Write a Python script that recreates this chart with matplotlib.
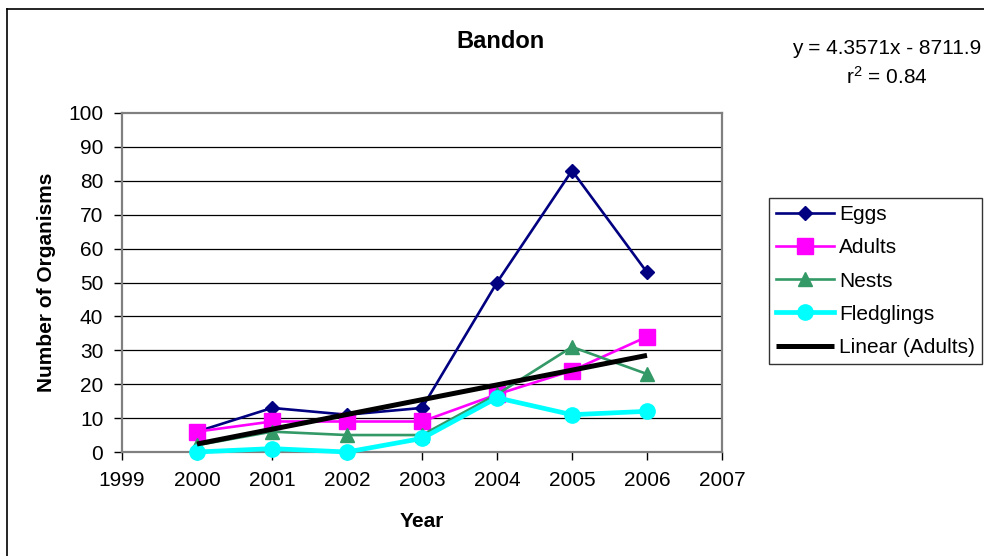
import numpy as np
import matplotlib
matplotlib.use("Agg")
import matplotlib.pyplot as plt
from matplotlib.lines import Line2D

plt.rcParams["font.family"] = ["Liberation Sans", "DejaVu Sans"]

years = [2000, 2001, 2002, 2003, 2004, 2005, 2006]
eggs = [6, 13, 11, 13, 50, 83, 53]
adults = [6, 9, 9, 9, 17, 24, 34]
nests = [2, 6, 5, 5, 17, 31, 23]
fledglings = [0, 1, 0, 4, 16, 11, 12]

x_ticks = [1999, 2000, 2001, 2002, 2003, 2004, 2005, 2006, 2007]
y_ticks = [0, 10, 20, 30, 40, 50, 60, 70, 80, 90, 100]

W, H = 984, 556
FS = 15
fig = plt.figure(figsize=(W / 100, H / 100), dpi=100)
ax = fig.add_axes([122 / W, 1 - 452 / H, 600 / W, 339 / H])

# outer chart frame (top and left edges)
fig.add_artist(Line2D([7 / W, 1.0], [1 - 9 / H, 1 - 9 / H], color="black", lw=1.2,
                      transform=fig.transFigure))
fig.add_artist(Line2D([7 / W, 7 / W], [0.0, 1 - 9 / H], color="black", lw=1.2,
                      transform=fig.transFigure))

ax.plot(years, eggs, color="#000080", lw=1.9, marker="D", ms=7.5,
        label="Eggs", clip_on=False, zorder=3)
ax.plot(years, adults, color="#FF00FF", lw=1.9, marker="s", ms=11,
        label="Adults", clip_on=False, zorder=4)
ax.plot(years, nests, color="#339966", lw=1.9, marker="^", ms=10,
        label="Nests", clip_on=False, zorder=5)
ax.plot(years, fledglings, color="#00FFFF", lw=3.4, marker="o", ms=11,
        label="Fledglings", clip_on=False, zorder=6)

# linear trend of the adult counts
yr = np.array(years, dtype=float)
slope, intercept = np.polyfit(yr, np.array(adults, dtype=float), 1)
fit = slope * yr + intercept
r2 = 1 - np.sum((np.array(adults) - fit) ** 2) / np.sum((np.array(adults) - np.mean(adults)) ** 2)
ax.plot(yr, fit, color="black", lw=3.6, label="Linear (Adults)", zorder=7,
        solid_capstyle="butt")

ax.set_xlim(1999, 2007)
ax.set_ylim(0, 100)
ax.set_xticks(x_ticks)
ax.set_yticks(y_ticks)
ax.set_xticklabels([str(t) for t in x_ticks])
ax.set_yticklabels([str(t) for t in y_ticks])
ax.tick_params(axis="both", labelsize=FS, direction="out", length=5.5,
               width=1, color="black")
ax.tick_params(axis="y", pad=8)
ax.tick_params(axis="x", pad=8)

for y in y_ticks[1:-1]:
    ax.axhline(y, color="black", lw=0.9, zorder=1)
for s in ax.spines.values():
    s.set_color("#808080")
    s.set_linewidth(1.6)

ax.set_xlabel("Year", fontsize=FS, fontweight="bold", labelpad=16)
ax.set_ylabel("Number of Organisms", fontsize=FS, fontweight="bold", labelpad=9)

fig.text(500 / W, 1 - 42 / H, "Bandon", fontsize=17, fontweight="bold",
         ha="center", va="center")
sign = "-" if intercept < 0 else "+"
fig.text(887 / W, 1 - 63 / H,
         f"y = {slope:.4f}x {sign} {abs(intercept):.1f}\n$\\mathregular{{r^2}}$ = {r2:.2f}",
         fontsize=FS, ha="center", va="center", linespacing=1.45)

leg = ax.legend(loc="upper left", bbox_to_anchor=(769 / W, 1 - 198 / H),
                bbox_transform=fig.transFigure, borderaxespad=0,
                fontsize=FS, frameon=True, fancybox=False, handlelength=2.75,
                handletextpad=0.25, labelspacing=0.68, borderpad=0.35)
leg.get_frame().set_edgecolor("black")
leg.get_frame().set_linewidth(1.0)

fig.savefig("out.png", dpi=100)
